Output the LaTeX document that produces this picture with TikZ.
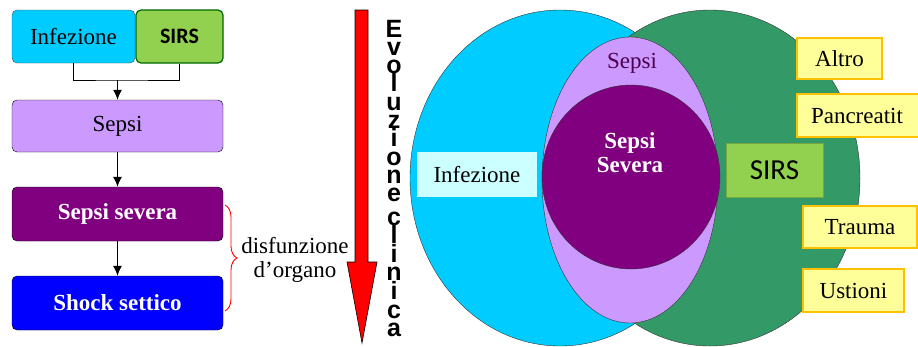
\documentclass[tikz,border=0pt]{standalone}
\usepackage{fontspec}
\setmainfont{Liberation Serif}
\newfontfamily\calibrifont{Carlito}
\newfontfamily\arialfont{Liberation Sans}
\usetikzlibrary{arrows.meta,decorations.pathreplacing}
\definecolor{cianoA}{RGB}{0,204,255}
\definecolor{verdeA}{RGB}{146,208,80}
\definecolor{lillaA}{RGB}{204,153,255}
\definecolor{violaA}{RGB}{128,0,128}
\definecolor{bluA}{RGB}{0,0,255}
\definecolor{verdeB}{RGB}{51,153,102}
\definecolor{gialloA}{RGB}{255,255,153}
\definecolor{aranA}{RGB}{255,192,0}
\definecolor{cianoB}{RGB}{204,255,255}
\newcommand{\corA}{cianoA}
\newcommand{\corB}{verdeA}
\newcommand{\corC}{lillaA}
\newcommand{\corD}{violaA}
\newcommand{\corE}{bluA}
\newcommand{\corF}{verdeB}
\newcommand{\corG}{gialloA}
\newcommand{\corH}{aranA}
\newcommand{\corI}{cianoB}
\newcommand{\testo}{\fontsize{23}{24}\selectfont}

\begin{document}
\begin{tikzpicture}[x=1pt, y=-1pt,
    caixa/.style={draw, rounded corners=5pt, inner sep=0pt, font=\testo},
    etich/.style={inner sep=0pt, font=\testo},
    lettera/.style={inner sep=0pt, anchor=base, font=\arialfont\bfseries\fontsize{25}{25}\selectfont},
    giallo/.style={fill=\corG, draw=\corH, line width=1.5pt, inner sep=0pt, font=\testo},
    freccia/.style={-{Latex[length=10pt,width=9pt]}, line width=1pt}]
    \useasboundingbox (0,0) rectangle (918,346);
    \clip (0,0) rectangle (918,346);

          % diagramma di flusso
        \node[caixa, fill=\corA, draw=black!70, minimum width=123pt, minimum height=53pt] (inf) at (73.5,36.5) {Infezione};
        \node[caixa, fill=\corB, draw=green!40!black, line width=1.2pt, minimum width=87pt, minimum height=53pt,
              font=\calibrifont\bfseries\fontsize{22}{24}\selectfont] (sirsA) at (179.5,36.5) {SIRS};
        \node[caixa, fill=\corC, minimum width=211pt, minimum height=52pt] (sepsi) at (117.5,126) {Sepsi};
        \node[caixa, fill=\corD, text=white, minimum width=211pt, minimum height=54pt,
              font=\testo\bfseries] (sev) at (117.5,214) {Sepsi severa};
        \node[caixa, fill=\corE, text=white, minimum width=211pt, minimum height=54pt,
              font=\testo\bfseries] (shock) at (117.5,303) {Shock settico};

        \coordinate (giunto) at (117.5,80);
        \draw[line width=1pt] (inf.south) |- (giunto) -| (sirsA.south);
        \draw[freccia] (giunto) -- (sepsi.north);
        \draw[freccia] (sepsi) -- (sev);
        \draw[freccia] (sev) -- (shock);

          % graffa
        \coordinate (gA) at (225,205);
        \coordinate (gB) at (225,311);
        \draw[red, line width=0.9pt, decorate, decoration={brace, amplitude=12pt}] (gA) -- (gB);
        \node[etich, align=center] (disf) at (295,260) {disfunzione\\d’organo};

          % freccia rossa
        \filldraw[fill=red, draw=black, line width=0.6pt] (355,10) -- (368,10) -- (368,262) -- (377,262)
            -- (362,343) -- (347,262) -- (355,262) -- cycle;

          % scritta verticale, una lettera sotto l'altra
        \foreach \lt [count=\i] in {E,v,o,l,u,z,i,o,n,e}
            \node[lettera] (evoA\i) at (394,37+18.3*\i-18.3) {\lt};
        \foreach \lt [count=\i] in {c,l,i,n,i,c,a}
            \node[lettera] (evoB\i) at (394,225+18.6*\i-18.6) {\lt};

          % insiemi
        \filldraw[fill=\corA, draw=black!80] (560,178) ellipse [x radius=150, y radius=168];
        \filldraw[fill=\corF, draw=black!80] (710,178) ellipse [x radius=150, y radius=168];
        \filldraw[fill=\corC, draw=black!80] (630,180) ellipse [x radius=88, y radius=143];
        \filldraw[fill=\corD, draw=black!80] (631,177) ellipse [x radius=89, y radius=92];

        \node[etich, text=violaA!60!black] (sepsiB) at (632,63) {Sepsi};
        \node[etich, text=white, align=center, font=\testo\bfseries] (sevB) at (630,153) {Sepsi\\Severa};
        \node[etich, fill=\corI, minimum width=120pt, minimum height=45pt] (infB) at (477,174.5) {Infezione};
        \node[etich, fill=\corB, draw=verdeA!80!black, minimum width=97pt, minimum height=54pt,
              font=\calibrifont\fontsize{29}{30}\selectfont] (sirsB) at (774.5,170) {SIRS};

        \node[giallo, minimum width=85pt, minimum height=41pt] (altro) at (839.5,58.5) {Altro};
        \node[giallo, minimum width=133pt, minimum height=43pt, text width=121pt, align=left] (pancr) at (863.5,115.5)
            {\hspace{8pt}Pancreatit};
        \node[giallo, minimum width=114pt, minimum height=42pt] (trauma) at (860,227) {Trauma};
        \node[giallo, minimum width=101pt, minimum height=43pt] (ustioni) at (853.5,290.5) {Ustioni};
\end{tikzpicture}
\end{document}
